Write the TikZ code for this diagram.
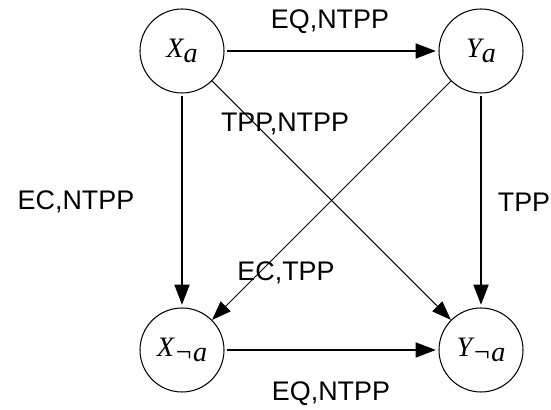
\documentclass[tikz,border=0pt]{standalone}
\usepackage{fontspec}
\setmainfont{Liberation Sans}
\newfontfamily\varfont{Liberation Serif}
\usetikzlibrary{arrows.meta}

\newcommand{\lowsub}[1]{\raisebox{-0.35ex}{#1}}

\begin{document}
\begin{tikzpicture}[
        state/.style={circle, draw, line width=0.6pt, minimum size=1.68cm, inner sep=0pt,
            font=\varfont\itshape\fontsize{16}{18}\selectfont},
        lbl/.style={font=\fontsize{15.3}{18}\selectfont, inner sep=0pt},
        thick arrow/.style={line width=1.15pt, -{Triangle[length=11.5pt, width=8.5pt]},
            shorten <=1.5pt, shorten >=1.5pt},
        thin arrow/.style={line width=0.6pt, -{Triangle[length=11pt, width=8pt]}}
    ]
        \useasboundingbox (0, 0) rectangle (11.02, 8.2);

        \node[state] (xa) at (3.64, 7.18) {X\lowsub{a}};
        \node[state] (ya) at (9.62, 7.18) {Y\lowsub{a}};
        \node[state] (xn) at (3.64, 1.2) {X\lowsub{¬a}};
        \node[state] (yn) at (9.62, 1.2) {Y\lowsub{¬a}};

        \draw[thick arrow] (xa) -- (ya);
        \draw[thick arrow] (xn) -- (yn);
        \draw[thick arrow] (xa) -- (xn);
        \draw[thick arrow] (ya) -- (yn);
        \draw[thin arrow] (xa) -- (yn);
        \draw[thin arrow] (ya) -- (xn);

        \node[lbl] (eqtop) at (6.6, 7.76) {EQ,NTPP};
        \node[lbl] (eqbot) at (6.62, 0.32) {EQ,NTPP};
        \node[lbl] (tppntpp) at (5.7, 5.72) {TPP,NTPP};
        \node[lbl] (ectpp) at (5.72, 2.74) {EC,TPP};
        \node[lbl] (ecntpp) at (1.52, 4.16) {EC,NTPP};
        \node[lbl] (tpp) at (10.48, 4.16) {TPP};
    \end{tikzpicture}
\end{document}
